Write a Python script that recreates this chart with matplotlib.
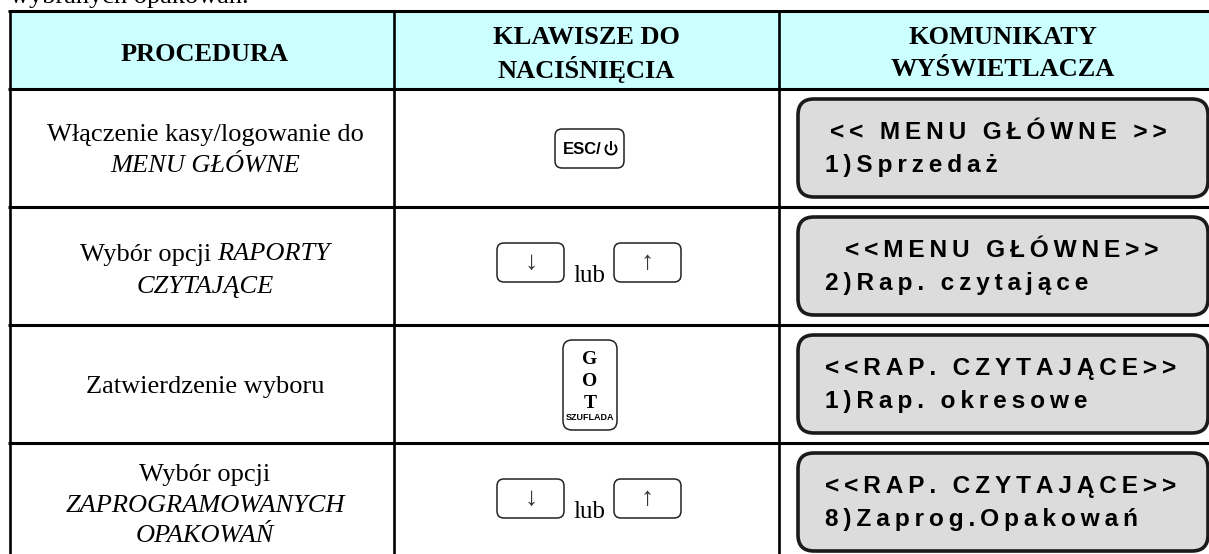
import matplotlib.pyplot as plt
from matplotlib.patches import Rectangle, FancyBboxPatch, Arc

# Table content
top_line = "wybranych opakowań."
headers = [["PROCEDURA"], ["KLAWISZE DO", "NACIŚNIĘCIA"], ["KOMUNIKATY", "WYŚWIETLACZA"]]
# each line is a list of (text, italic) runs
procedures = [
    [[("Włączenie kasy/logowanie do", False)], [("MENU GŁÓWNE", True)]],
    [[("Wybór opcji ", False), ("RAPORTY", True)], [("CZYTAJĄCE", True)]],
    [[("Zatwierdzenie wyboru", False)]],
    [[("Wybór opcji", False)], [("ZAPROGRAMOWANYCH", True)], [("OPAKOWAŃ", True)]],
]
display_lines = [
    ["<< MENU GŁÓWNE >>", "1)Sprzedaż"],
    ["<<MENU GŁÓWNE>>", "2)Rap. czytające"],
    ["<<RAP. CZYTAJĄCE>>", "1)Rap. okresowe"],
    ["<<RAP. CZYTAJĄCE>>", "8)Zaprog.Opakowań"],
]
display_x = [830, 845, 825, 825]

SERIF = "Liberation Serif"
SANS = ["Liberation Sans", "DejaVu Sans"]
row_lines = [89, 207, 325, 443]
col_lines = [9.5, 394, 778.5]
row_tops = [89, 207, 325, 443]

fig = plt.figure(figsize=(12.09, 5.54), dpi=100)
ax = fig.add_axes([0, 0, 1, 1])
ax.set_xlim(0, 1209)
ax.set_ylim(554, 0)
ax.axis("off")


def key(x0, y0, x1, y1, r=7):
    ax.add_patch(FancyBboxPatch((x0 + r, y0 + r), x1 - x0 - 2 * r, y1 - y0 - 2 * r,
                                boxstyle=f"round,pad={r},rounding_size={r}",
                                fc="white", ec="#222222", lw=1.1))


def spaced(s):
    return "\u2009".join(s)


def mixed_line(runs, cx, y, size=19):
    # center a line made of regular and italic parts
    texts = [ax.text(0, y, t, family=SERIF, fontsize=size, style="italic" if it else "normal",
                     va="center_baseline", ha="left") for t, it in runs]
    r = fig.canvas.get_renderer()
    widths = [t.get_window_extent(r).width for t in texts]
    x = cx - sum(widths) / 2
    for t, w in zip(texts, widths):
        t.set_x(x)
        x += w


# Header band and grid
ax.add_patch(Rectangle((9.5, 11), 1200, 78, fc="#ccffff", ec="none"))
ax.plot([8, 1209], [11, 11], color="black", lw=2.2, solid_capstyle="butt")
for y in row_lines:
    ax.plot([8, 1209], [y, y], color="black", lw=2.2, solid_capstyle="butt")
for x in col_lines:
    ax.plot([x, x], [10, 554], color="black", lw=1.9, solid_capstyle="butt")

ax.text(10, 3, top_line, family=SERIF, fontsize=19, va="baseline")

# Headers
for cx, lines in zip([205, 586, 1003], headers):
    ys = [52] if len(lines) == 1 else [35, 67]
    for y, t in zip(ys, lines):
        ax.text(cx, y, t, family=SERIF, fontsize=19, weight="bold", ha="center", va="center_baseline")

# Procedure column
proc_y = [[133, 164], [252, 285], [385], [473, 503, 533]]
for lines, ys in zip(procedures, proc_y):
    for runs, y in zip(lines, ys):
        mixed_line(runs, 205, y)

# Display panels
for top, lines, x0 in zip(row_tops, display_lines, display_x):
    ax.add_patch(FancyBboxPatch((798 + 16, top + 10 + 16), 410 - 32, 98 - 32,
                                boxstyle="round,pad=16,rounding_size=16",
                                fc="#dcdcdc", ec="#1a1a1a", lw=2.6))
    ax.text(x0, top + 50, spaced(lines[0]), family=SANS, fontsize=17.6, weight="bold", va="baseline")
    ax.text(825, top + 83, spaced(lines[1]), family=SANS, fontsize=17.6, weight="bold", va="baseline")

# ESC key
key(555, 129, 624, 168)
ax.text(563, 149, "ESC/", family=SANS, fontsize=12, weight="bold", va="center")
ax.add_patch(Arc((611, 149), 11, 11, theta1=-50, theta2=230, color="black", lw=1.4))
ax.plot([611, 611], [142, 149], color="black", lw=1.4)

# Arrow keys with "lub"
for base in [243, 479]:
    key(497, base, 564, base + 39)
    key(614, base, 681, base + 39)
    ax.text(531, base + 20, "↓", family=SERIF, fontsize=19, color="#333333", ha="center", va="center")
    ax.text(647, base + 20, "↑", family=SERIF, fontsize=19, color="#333333", ha="center", va="center")
    ax.text(573, base + 39, "lub", family=SERIF, fontsize=18, va="baseline")

# GOT key
key(563, 340, 617, 430, r=9)
for y, t in zip([359, 382, 404], "GOT"):
    ax.text(590, y, t, family=SERIF, fontsize=14, weight="bold", ha="center", va="center")
ax.text(590, 417, "SZUFLADA", family=SANS, fontsize=6.5, weight="bold", ha="center", va="center")

fig.savefig("out.png", dpi=100)
